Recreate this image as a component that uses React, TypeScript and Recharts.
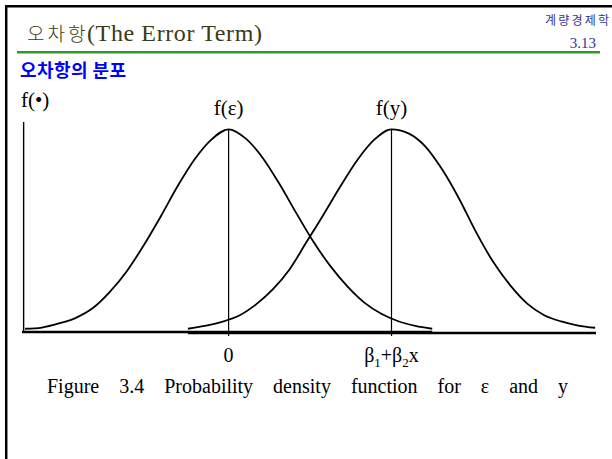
import React from 'react';
import { LineChart, Line, XAxis, YAxis, ReferenceLine } from 'recharts';

// density of the error term, centred at 0
const EPS_X = [-3, -2.75, -2.5, -2.25, -2, -1.75, -1.5, -1.25, -1, -0.75, -0.5, -0.25, 0, 0.25, 0.5, 0.75, 1, 1.25, 1.5, 1.75, 2, 2.25, 2.5, 2.75, 3];
const EPS_F = [0.016, 0.022, 0.042, 0.07, 0.118, 0.198, 0.3, 0.428, 0.57, 0.72, 0.852, 0.95, 1.0, 0.955, 0.86, 0.73, 0.585, 0.445, 0.325, 0.225, 0.145, 0.09, 0.053, 0.03, 0.016];
// density of y, centred at beta1 + beta2 x
const Y_X = [-0.6, -0.35, -0.1, 0.15, 0.4, 0.65, 0.9, 1.15, 1.4, 1.65, 1.9, 2.15, 2.4, 2.65, 2.9, 3.15, 3.4, 3.65, 3.9, 4.15, 4.4, 4.65, 4.9, 5.15, 5.4];
const Y_F = [0.016, 0.03, 0.05, 0.08, 0.135, 0.21, 0.31, 0.445, 0.58, 0.72, 0.85, 0.95, 1.0, 0.98, 0.915, 0.8, 0.655, 0.49, 0.345, 0.23, 0.14, 0.083, 0.052, 0.032, 0.021];

const CENTERS = [0, 2.4];
const TICK_LABELS = ['0', 'β_1+β_2x'];
const CURVE_LABELS = ['f(ε)', 'f(y)'];
const X_DOMAIN = [-3.044, 5.413];
const Y_DOMAIN = [0, 1.036];
const Y_AXIS_X = -3.02;

const TITLE_KO = '오차항';
const TITLE_EN = '(The Error Term)';
const COURSE = '계량경제학';
const PAGE = '3.13';
const SUBTITLE = '오차항의 분포';
const Y_LABEL = 'f(•)';
const CAPTION = 'Figure 3.4 Probability density function for ε and y';

const epsData = EPS_X.map((x, i) => ({ x, f: EPS_F[i] }));
const yData = Y_X.map((x, i) => ({ x, f: Y_F[i] }));

const SERIF = '"Liberation Serif", "Times New Roman", serif';
const KO = '"Noto Sans CJK KR", "Noto Sans", sans-serif';

function renderSub(label: string) {
  const parts = label.split(/_(\d)/);
  const out: React.ReactNode[] = [];
  parts.forEach((p, i) => {
    if (p === '') return;
    const isSub = i % 2 === 1;
    out.push(
      <tspan key={i} dy={isSub ? 5 : (i > 0 ? -5 : 0)} fontSize={isSub ? 13 : 20}>{p}</tspan>
    );
  });
  return out;
}

const XTick = (props: any) => {
  const { x, y, payload } = props;
  const idx = CENTERS.indexOf(payload.value);
  const label = idx >= 0 ? TICK_LABELS[idx] : String(payload.value);
  return (
    <text x={x} y={y + 24} textAnchor="middle" fontFamily={SERIF} fontSize={20} fill="#000">
      {renderSub(label)}
    </text>
  );
};

const CurveLabel = (props: any) => {
  const { viewBox, value } = props;
  if (!viewBox) return null;
  return (
    <text x={viewBox.x} y={viewBox.y - 14} textAnchor="middle" fontFamily={SERIF} fontSize={21} fill="#000">
      {value}
    </text>
  );
};

export default function App() {
  return (
    <div style={{ position: 'absolute', left: 0, top: 0, width: 612, height: 459, background: '#fff' }}>
      <div style={{ position: 'absolute', left: 0, top: 0 }}>
        <LineChart width={612} height={459} margin={{ left: 22, right: 16, top: 122, bottom: 87 }}>
          <XAxis
            type="number"
            dataKey="x"
            domain={X_DOMAIN}
            ticks={CENTERS}
            interval={0}
            allowDataOverflow
            axisLine={false}
            tickLine={{ stroke: '#000', strokeWidth: 1.2 }}
            tickSize={4}
            height={40}
            tick={<XTick />}
          />
          <YAxis type="number" domain={Y_DOMAIN} hide allowDataOverflow />
          <ReferenceLine
            segment={[{ x: X_DOMAIN[0], y: 0 }, { x: EPS_X[EPS_X.length - 1], y: 0 }]}
            stroke="#000" strokeWidth={2.5} ifOverflow="visible"
          />
          <ReferenceLine
            segment={[{ x: Y_X[0], y: -0.005 }, { x: X_DOMAIN[1], y: -0.005 }]}
            stroke="#000" strokeWidth={2.5} ifOverflow="visible"
          />
          <ReferenceLine
            segment={[{ x: Y_AXIS_X, y: 0 }, { x: Y_AXIS_X, y: Y_DOMAIN[1] }]}
            stroke="#000" strokeWidth={1.4} ifOverflow="visible"
          />
          {CENTERS.map((c, i) => (
            <ReferenceLine
              key={i}
              segment={[{ x: c, y: 1.0 }, { x: c, y: 0 }]}
              stroke="#000" strokeWidth={1.2} ifOverflow="visible"
              label={<CurveLabel value={CURVE_LABELS[i]} />}
            />
          ))}
          <Line data={epsData} dataKey="f" type="monotone" stroke="#000" strokeWidth={1.8} dot={false} isAnimationActive={false} />
          <Line data={yData} dataKey="f" type="monotone" stroke="#000" strokeWidth={1.8} dot={false} isAnimationActive={false} />
        </LineChart>
      </div>
      <svg width={612} height={459} style={{ position: 'absolute', left: 0, top: 0, pointerEvents: 'none' }}>
        <line x1={6.2} y1={5} x2={6.2} y2={459} stroke="#000" strokeWidth={2.5} />
        <line x1={5} y1={6.2} x2={612} y2={6.2} stroke="#000" strokeWidth={2.5} />
        <text x={27} y={41} fill="#3a3a14">
          <tspan fontFamily={KO} fontSize={19} fontWeight={300} letterSpacing={3}>{TITLE_KO}</tspan>
          <tspan x={87} fontFamily={SERIF} fontSize={24} textLength={175}>{TITLE_EN}</tspan>
        </text>
        <text x={545} y={25} fontFamily={KO} fontSize={12} fill="#333399" textLength={64}>{COURSE}</text>
        <text x={596} y={48} fontFamily={SERIF} fontSize={15} fill="#333399" textAnchor="end">{PAGE}</text>
        <line x1={17} y1={52.2} x2={600} y2={52.2} stroke="#2e9a2e" strokeWidth={2.6} />
        <text x={20} y={77} fontFamily={KO} fontSize={18} fontWeight={700} fill="#0000ff" textLength={106}>{SUBTITLE}</text>
        <text x={21} y={107} fontFamily={SERIF} fontSize={21} fill="#000">{Y_LABEL}</text>
        <text x={47} y={393} fontFamily={SERIF} fontSize={20} fill="#000" wordSpacing={15}>{CAPTION}</text>
      </svg>
    </div>
  );
}
